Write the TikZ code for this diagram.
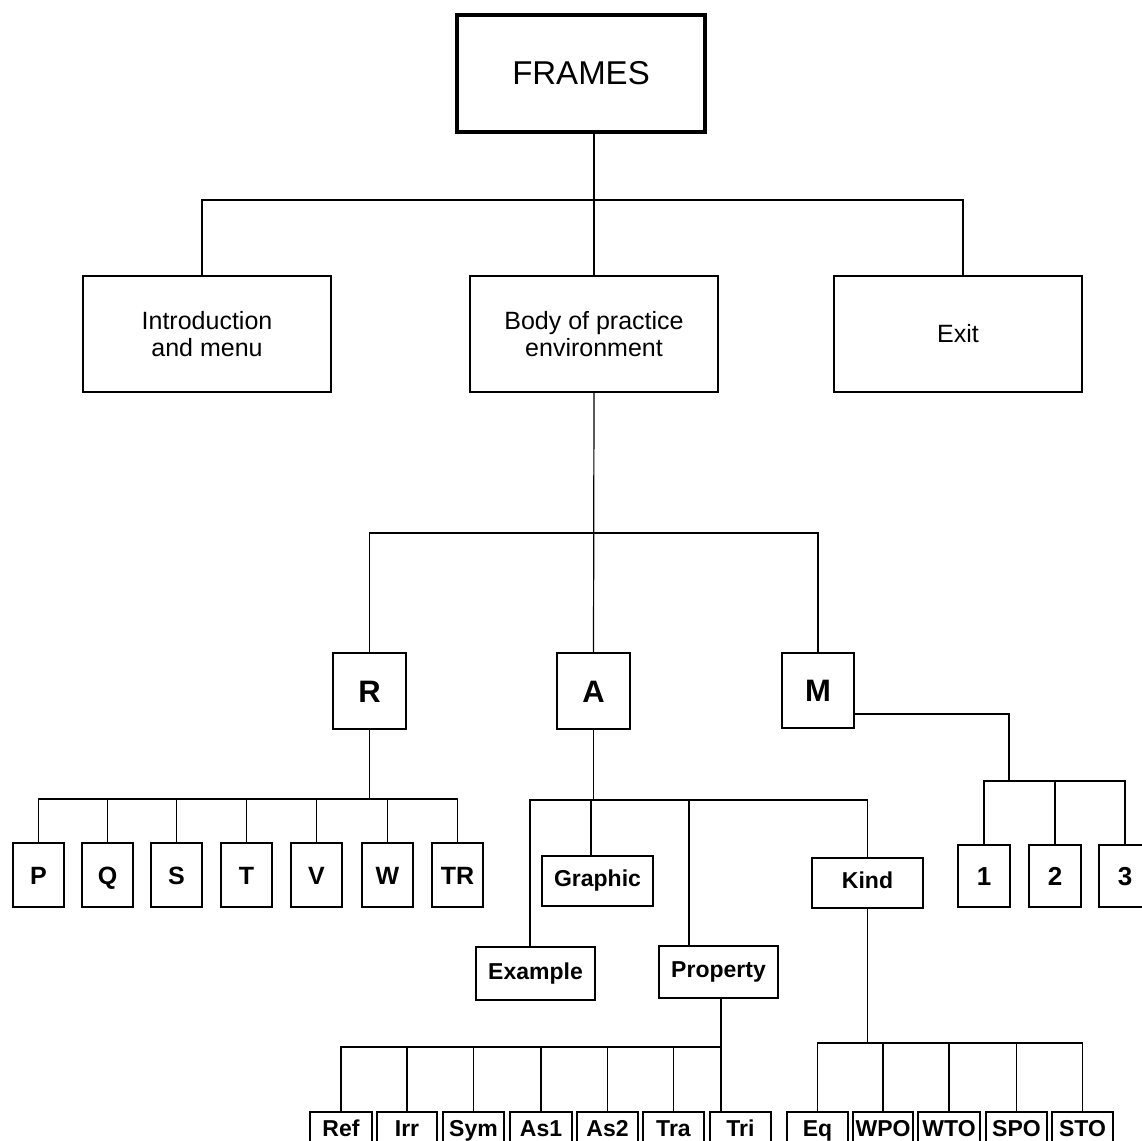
\documentclass[tikz,border=0pt]{standalone}
\usepackage{fontspec}
\setmainfont{Liberation Sans}
\usetikzlibrary{calc}

\tikzset{
  conn/.style={line width=1.2pt},
  box/.style={draw, line width=1.2pt, inner sep=0pt, outer sep=0pt, align=center},
  rootbox/.style={box, line width=4pt, font=\fontsize{33}{38}\selectfont},
  topbox/.style={box, minimum width=248pt, minimum height=116pt, font=\fontsize{25}{27}\selectfont},
  letterbox/.style={box, minimum width=73pt, minimum height=76pt, font=\bfseries\fontsize{31}{36}\selectfont, text height=22pt, text depth=0pt},
  leafbox/.style={box, minimum width=51pt, minimum height=64pt, font=\bfseries\fontsize{25}{30}\selectfont, text height=18pt, text depth=0pt},
  wordbox/.style={box, minimum height=51pt, font=\bfseries\fontsize{23}{28}\selectfont, text height=16.5pt, text depth=5pt},
  numbox/.style={box, minimum width=52pt, minimum height=62pt, font=\bfseries\fontsize{26}{30}\selectfont, text height=19pt, text depth=0pt},
  relbox/.style={box, minimum width=61pt, minimum height=38pt, font=\bfseries\fontsize{23}{28}\selectfont, text height=16.5pt, text depth=5pt},
}

\begin{document}
\begin{tikzpicture}[x=1pt, y=-1pt]
  \useasboundingbox (0,0) rectangle (1142,1140);
  \fill[white] (0,0) rectangle (1142,1140);
  \clip (0,0) rectangle (1142,1140);

  % root and first level
  \node[rootbox, minimum width=248pt, minimum height=117pt] (frames) at (581,73.5) {FRAMES};
  \node[topbox] (intro) at (207,334) {Introduction\\and menu};
  \node[topbox] (body)  at (594,334) {Body of practice\\environment};
  \node[topbox] (exit)  at (958,334) {Exit};

  % R, A, M
  \node[letterbox] (r) at (369.5,691) {R};
  \node[letterbox] (a) at (593.5,691) {A};
  \node[letterbox, minimum width=72pt, minimum height=75pt] (m) at (818,690.5) {M};

  % children of R
  \node[leafbox] (p)  at (38.5,875)  {P};
  \node[leafbox] (q)  at (107.5,875) {Q};
  \node[leafbox] (s)  at (176.5,875) {S};
  \node[leafbox] (t)  at (246.5,875) {T};
  \node[leafbox] (v)  at (316.5,875) {V};
  \node[leafbox] (w)  at (387.5,875) {W};
  \node[leafbox] (tr) at (457.5,875) {TR};

  % children of A
  \node[wordbox, minimum width=111pt, minimum height=50pt] (graphic)  at (597.5,881) {Graphic};
  \node[wordbox, minimum width=119pt, minimum height=53pt] (example)  at (535.5,973.5) {Example};
  \node[wordbox, minimum width=119pt, minimum height=52pt] (property) at (718.5,972) {Property};
  \node[wordbox, minimum width=111pt, minimum height=50pt] (kind)     at (867.5,883) {Kind};

  % children of M
  \node[numbox] (one)   at (984,876)  {1};
  \node[numbox] (two)   at (1055,876) {2};
  \node[numbox] (three) at (1125,876) {3};

  % properties
  \node[relbox, minimum width=62pt] (ref) at (341,1131)   {Ref};
  \node[relbox, minimum width=60pt] (irr) at (407,1131)   {Irr};
  \node[relbox] (sym) at (473.5,1131) {Sym};
  \node[relbox, minimum width=62pt] (asa) at (541,1131)   {As1};
  \node[relbox] (asb) at (607.5,1131) {As2};
  \node[relbox] (tra) at (673.5,1131) {Tra};
  \node[relbox] (tri) at (740.5,1131) {Tri};

  % kinds
  \node[relbox] (eq)  at (817.5,1131)  {Eq};
  \node[relbox, minimum width=60pt] (wpo) at (883,1131)  {WPO};
  \node[relbox, minimum width=62pt] (wto) at (949,1131)  {WTO};
  \node[relbox] (spo) at (1016.5,1131) {SPO};
  \node[relbox] (sto) at (1082.5,1131) {STO};

  % junction points of the bars
  \coordinate (tbar) at (594,200);
  \coordinate (mbar) at (594,533);
  \coordinate (rbar) at (369.5,799);
  \coordinate (abar) at (593.5,800);
  \coordinate (nbar) at (1009,781);
  \coordinate (pbar) at (721,1047);
  \coordinate (kbar) at (867.5,1043);

  % connector ends that sit off a box centre
  \coordinate (introin) at ($(intro.north)+(-5,0)$);
  \coordinate (exitin)  at ($(exit.north)+(5,0)$);
  \coordinate (exin)    at ($(example.north)+(-5.5,0)$);
  \coordinate (grin)    at ($(graphic.north)+(-6.5,0)$);
  \coordinate (prin)    at ($(property.north)+(-29.5,0)$);
  \coordinate (prout)   at ($(property.south)+(2.5,0)$);
  \coordinate (mout)    at ($(m.east)+(0,23.5)$);

  % root level
  \draw[conn] (body.north) -- (body.north |- frames.south);
  \draw[conn] (introin) |- (tbar) -| (exitin);

  % body to R, A, M
  \draw[conn] (body.south) -- (a.north);
  \draw[conn] (r.north) |- (mbar) -| (m.north);

  % R to its children
  \draw[conn] (r.south) -- (rbar);
  \draw[conn] (p.north) |- (rbar) -| (tr.north);
  \foreach \n in {q,s,t,v,w}
    \draw[conn] (\n.north) -- (\n.north |- rbar);

  % A to its children
  \draw[conn] (a.south) -- (abar);
  \draw[conn] (exin) |- (abar) -| (kind.north);
  \draw[conn] (grin) -- (grin |- abar);
  \draw[conn] (prin) -- (prin |- abar);

  % M to its children
  \draw[conn] (mout) -| (nbar);
  \draw[conn] (one.north) |- (nbar) -| (three.north);
  \draw[conn] (two.north) -- (two.north |- nbar);

  % Property to its children
  \draw[conn] (prout) -- (prout |- tri.north);
  \draw[conn] (ref.north) |- (pbar);
  \foreach \n in {irr,sym,asa,asb,tra}
    \draw[conn] (\n.north) -- (\n.north |- pbar);

  % Kind to its children
  \draw[conn] (kind.south) -- (kbar);
  \draw[conn] (eq.north) |- (kbar) -| (sto.north);
  \foreach \n in {wpo,wto,spo}
    \draw[conn] (\n.north) -- (\n.north |- kbar);
\end{tikzpicture}
\end{document}
